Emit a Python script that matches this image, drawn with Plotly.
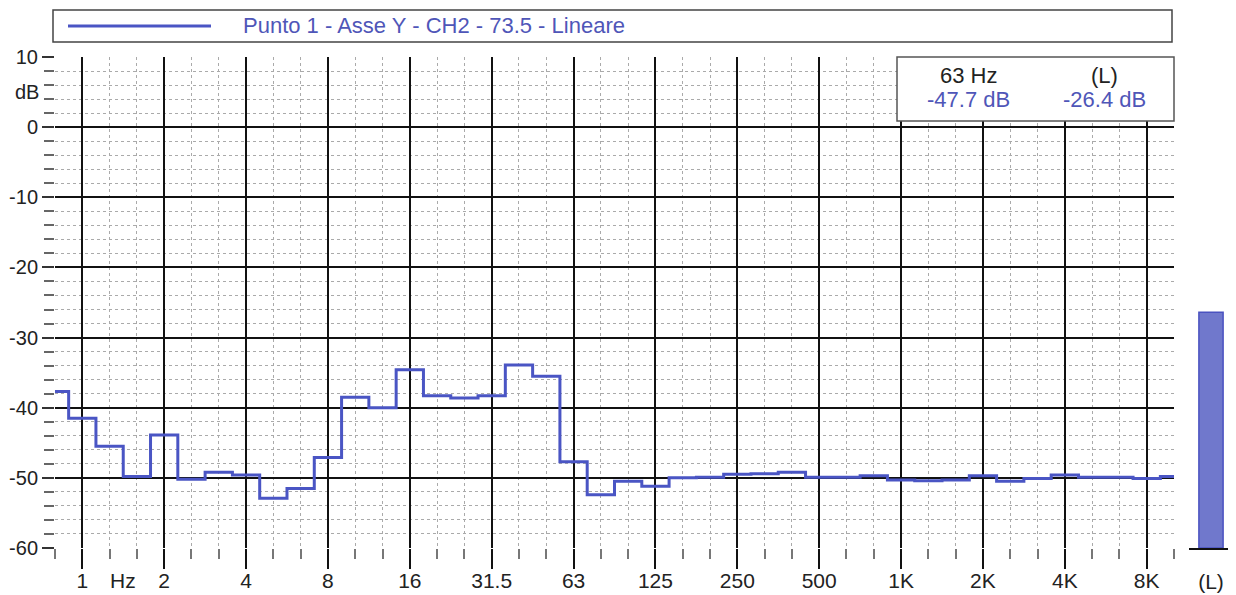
import plotly.graph_objects as go

# third-octave bands shown on the x axis (Hz)
bands = ["0.8", "1", "1.25", "1.6", "2", "2.5", "3.15", "4", "5", "6.3", "8", "10",
         "12.5", "16", "20", "25", "31.5", "40", "50", "63", "80", "100", "125", "160",
         "200", "250", "315", "400", "500", "630", "800", "1K", "1.25K", "1.6K", "2K",
         "2.5K", "3.15K", "4K", "5K", "6.3K", "8K", "10K"]

# measured level per band (dB)
levels = [-37.7, -41.5, -45.5, -49.8, -43.9, -50.2, -49.2, -49.6, -52.9, -51.5, -47.1, -38.5,
          -40.0, -34.6, -38.3, -38.6, -38.3, -33.9, -35.5, -47.7, -52.4, -50.5, -51.2, -50.0,
          -49.9, -49.5, -49.4, -49.2, -49.9, -49.9, -49.7, -50.3, -50.4, -50.3, -49.7,
          -50.5, -50.1, -49.6, -49.9, -49.9, -50.1, -49.8]

# octave labels on the x axis
octave_labels = ["1", "2", "4", "8", "16", "31.5", "63", "125", "250", "500", "1K", "2K", "4K", "8K"]

# y axis ticks
y_ticks = [10, 0, -10, -20, -30, -40, -50, -60]

# overall linear level and cursor band
total_level = -26.4
cursor_band = "63"

series_name = "Punto 1 - Asse Y - CH2 - 73.5 - Lineare"

line_color = "#4a55c4"
text_blue = "#4f56b8"
font_family = "Arial, Liberation Sans, sans-serif"

# page geometry (pixels); the page body adds an 8px margin round the figure
OFF = 8
W, H = 1236 - OFF, 595 - OFF
ML, MR, MT, MB = 55 - OFF, 3, 57 - OFF, 47
PW = W - ML - MR
PH = H - MT - MB


def px(x):
    # page x pixel -> paper coordinate
    return (x - OFF - ML) / PW


def py(y):
    # page y pixel -> paper coordinate
    return (H - MB - (y - OFF)) / PH


xs = list(range(len(bands)))
octave_pos = [bands.index(b) for b in octave_labels]
y_min, y_max = y_ticks[-1], y_ticks[0]

fig = go.Figure()

# step spectrum
fig.add_trace(go.Scatter(x=xs, y=levels, mode="lines", line_shape="hvh",
                         line=dict(color=line_color, width=3),
                         name=series_name, showlegend=False,
                         hovertext=[b + " Hz" for b in bands]))

# overall level bar on the right
fig.add_trace(go.Bar(x=[0], y=[total_level - y_min], base=[y_min], width=0.55,
                     marker=dict(color="#7078cc", line=dict(color="#4a52c0", width=1.5)),
                     xaxis="x2", yaxis="y2", showlegend=False, name="(L)"))

fig.update_layout(
    width=W, height=H,
    margin=dict(l=ML, r=MR, t=MT, b=MB, autoexpand=False),
    paper_bgcolor="white", plot_bgcolor="white",
    font=dict(family=font_family, size=21, color="#222"),
    xaxis=dict(domain=[0, px(1174)], range=[0, len(bands) - 1], automargin=False,
               tickmode="array", tickvals=octave_pos, ticktext=octave_labels,
               ticks="outside", ticklen=20, tickwidth=2, tickcolor="#111",
               ticklabelstandoff=-6,
               showgrid=True, gridcolor="#111", gridwidth=2, zeroline=False,
               showline=False,
               minor=dict(dtick=1, tick0=0, ticks="outside", ticklen=10, tickwidth=1.5,
                          tickcolor="#777", showgrid=True, gridcolor="#aaa",
                          griddash="dot", gridwidth=1)),
    yaxis=dict(range=[y_min, y_max], automargin=False, tickmode="array", tickvals=y_ticks,
               ticktext=[str(v) for v in y_ticks], tickfont=dict(size=20),
               ticks="outside", ticklen=12, tickwidth=1.5, tickcolor="#333",
               showgrid=True, gridcolor="#111", gridwidth=2, zeroline=False,
               showline=False,
               minor=dict(dtick=2, tick0=0, ticks="outside", ticklen=10, tickwidth=1.5,
                          tickcolor="#666", showgrid=True, gridcolor="#aaa",
                          griddash="dot", gridwidth=1)),
    xaxis2=dict(domain=[px(1189), 1], range=[-0.5, 0.5], anchor="y2", automargin=False,
                tickmode="array", tickvals=[0], ticktext=["(L)"],
                ticks="outside", ticklen=20, tickcolor="rgba(0,0,0,0)",
                ticklabelstandoff=-6,
                showgrid=False, zeroline=False, showline=True, linecolor="#111",
                linewidth=1.5),
    yaxis2=dict(range=[y_min, y_max], anchor="x2", visible=False),
    showlegend=False,
)

# legend box drawn above the plot
fig.add_shape(type="rect", xref="paper", yref="paper",
              x0=px(53), x1=px(1172), y0=py(42), y1=py(10),
              line=dict(color="#444", width=1.5), fillcolor="white")
fig.add_shape(type="line", xref="paper", yref="paper",
              x0=px(68), x1=px(211), y0=py(26), y1=py(26),
              line=dict(color=line_color, width=3))
fig.add_annotation(x=px(241), y=py(25), xref="paper", yref="paper",
                   text=series_name, showarrow=False, xanchor="left", yanchor="middle",
                   font=dict(size=22, color=text_blue))

# cursor read-out box
ci = bands.index(cursor_band)
fig.add_shape(type="rect", xref="paper", yref="paper", layer="above",
              x0=px(897), x1=px(1174), y0=py(121), y1=py(57),
              line=dict(color="#555", width=1.5), fillcolor="white")
readout = [(968, cursor_band + " Hz", "#222"), (968, f"{levels[ci]:.1f} dB", text_blue),
           (1104, "(L)", "#222"), (1104, f"{total_level:.1f} dB", text_blue)]
for i, (xp, txt, col) in enumerate(readout):
    fig.add_annotation(x=px(xp), y=py(75 if i % 2 == 0 else 100), xref="paper", yref="paper",
                       text=txt, showarrow=False, xanchor="center", yanchor="middle",
                       font=dict(size=22, color=col))

# unit labels
fig.add_annotation(x=px(41), y=5, xref="paper", yref="y", text="dB", showarrow=False,
                   xanchor="right", yanchor="middle", font=dict(size=20, color="#222"))
fig.add_annotation(x=2.5, y=py(580), xref="x", yref="paper", text="Hz", showarrow=False,
                   xanchor="center", yanchor="middle", font=dict(size=21, color="#222"))

fig.write_html("out.html")
